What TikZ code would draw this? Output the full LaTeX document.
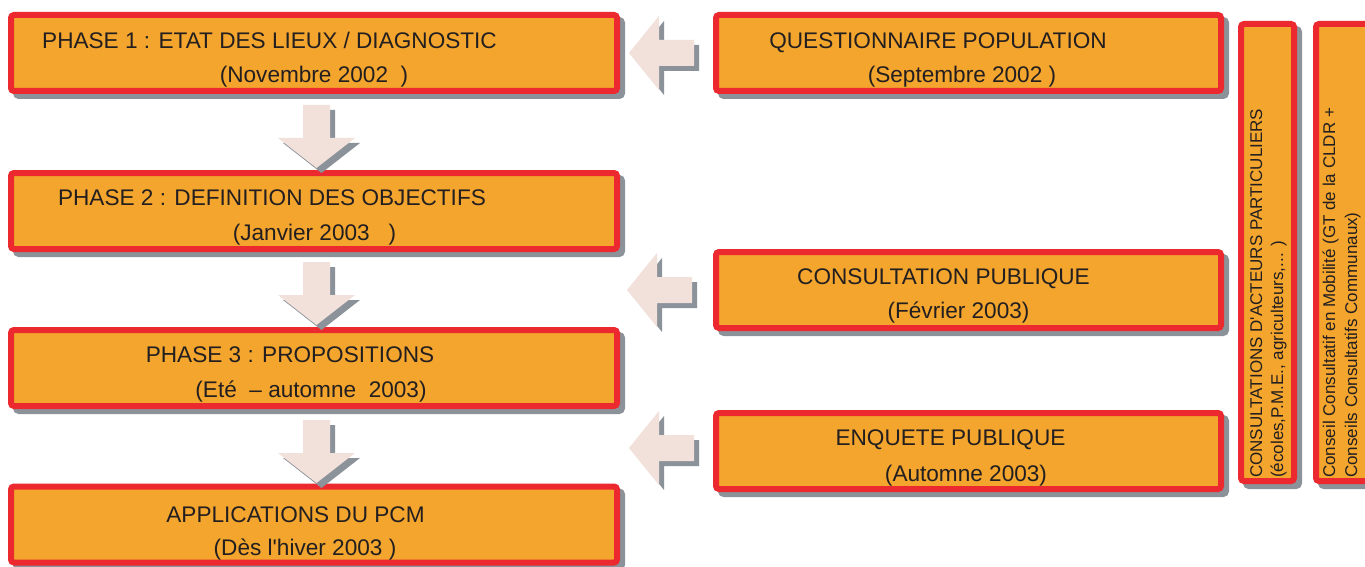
\documentclass[tikz,border=0pt]{standalone}
\usepackage{fontspec}
\setmainfont{Liberation Sans}[Ligatures=TeXOff]
\usetikzlibrary{shadows,calc}
\definecolor{boxfill}{RGB}{243,165,45}
\definecolor{boxline}{RGB}{237,41,48}
\definecolor{shadowc}{RGB}{140,146,153}
\definecolor{arrowc}{RGB}{242,224,218}
\definecolor{textc}{RGB}{35,31,32}
\tikzset{
  box/.style={rectangle, draw=boxline, line width=6pt, fill=boxfill, rounded corners=3pt, inner sep=0pt,
    drop shadow={shadow xshift=5pt, shadow yshift=-5pt, fill=shadowc, draw=shadowc, line width=6pt, opacity=1}},
  hbox/.style={box, minimum width=606pt, minimum height=76pt},
  rbox/.style={box, minimum width=505pt, minimum height=76pt},
  vbox/.style={box, minimum width=53pt, minimum height=457pt},
  blockarrow/.style={fill=arrowc, drop shadow={shadow xshift=5pt, shadow yshift=-5pt, fill=shadowc, opacity=1}},
  txt/.style={anchor=base, text=textc, font=\fontsize{22.6}{26}\selectfont, inner sep=0pt},
  vtxt/.style={rotate=90, anchor=base west, text=textc, font=\fontsize{17}{20}\selectfont, inner sep=0pt},
  downarr/.pic={\fill[blockarrow] (-13.5,0) -- (13.5,0) -- (13.5,33) -- (38.5,33) -- (0,63) -- (-38.5,33) -- (-13.5,33) -- cycle;},
  leftarr/.pic={\fill[blockarrow] (0,0) -- (30,-37) -- (30,-13) -- (65,-13) -- (65,13) -- (30,13) -- (30,37) -- cycle;}
}
\begin{document}
\begin{tikzpicture}[x=1pt,y=-1pt]
\clip (0,0) rectangle (1365,567);
\fill[white] (0,0) rectangle (1365,567);
% left column
\node[hbox] (p1) at (314,53) {};
\node[hbox] (p2) at (314,211) {};
\node[hbox] (p3) at (314,368) {};
\node[hbox] (app) at (314,524.5) {};
% right column
\node[rbox] (q) at (968.5,53) {};
\node[rbox] (cp) at (968.5,290) {};
\node[rbox] (ep) at (968.5,451) {};
% vertical boxes
\node[vbox] (v1) at (1267.5,252.5) {};
\node[vbox] (v2) at (1342.5,252.5) {};
% down arrows
\pic at ($(p1.south)+(2.5,11)$) {downarr};
\pic at ($(p2.south)+(2.5,10)$) {downarr};
\pic at ($(p3.south)+(2.5,11)$) {downarr};
% left arrows
\pic at ($(q.west)+(-84,0)$) {leftarr};
\pic at ($(cp.west)+(-86,0)$) {leftarr};
\pic at ($(ep.west)+(-84,-3)$) {leftarr};
% texts
\node[txt] (p1a) at (269.5,49) {PHASE 1 : ETAT DES LIEUX / DIAGNOSTIC};
\node[txt] (p1b) at (314,83) {(Novembre 2002\ \ )};
\node[txt] (p2a) at (272,205) {PHASE 2 : DEFINITION DES OBJECTIFS};
\node[txt] (p2b) at (314.5,240) {(Janvier 2003\ \ \ )};
\node[txt] (p3a) at (290,362) {PHASE 3 : PROPOSITIONS};
\node[txt] (p3b) at (311,397) {(Eté\ \ – automne\ \ 2003)};
\node[txt] (appa) at (295.5,522) {APPLICATIONS DU PCM};
\node[txt] (appb) at (305,555) {(Dès l'hiver 2003 )};
\node[txt] (qa) at (938,49) {QUESTIONNAIRE POPULATION};
\node[txt] (qb) at (962,83) {(Septembre 2002 )};
\node[txt] (cpa) at (943.5,284) {CONSULTATION PUBLIQUE};
\node[txt] (cpb) at (958.5,318) {(Février 2003)};
\node[txt] (epa) at (950.5,445) {ENQUETE PUBLIQUE};
\node[txt] (epb) at (966,481) {(Automne 2003)};
\node[vtxt] (v1a) at (1262,478) {CONSULTATIONS D'ACTEURS PARTICULIERS};
\node[vtxt] (v1b) at (1283,478) {(écoles,P.M.E., agriculteurs,... )};
\node[vtxt] (v2a) at (1335,478) {Conseil Consultatif en Mobilité (GT de la CLDR +};
\node[vtxt] (v2b) at (1357,478) {Conseils Consultatifs Communaux)};
\end{tikzpicture}
\end{document}
